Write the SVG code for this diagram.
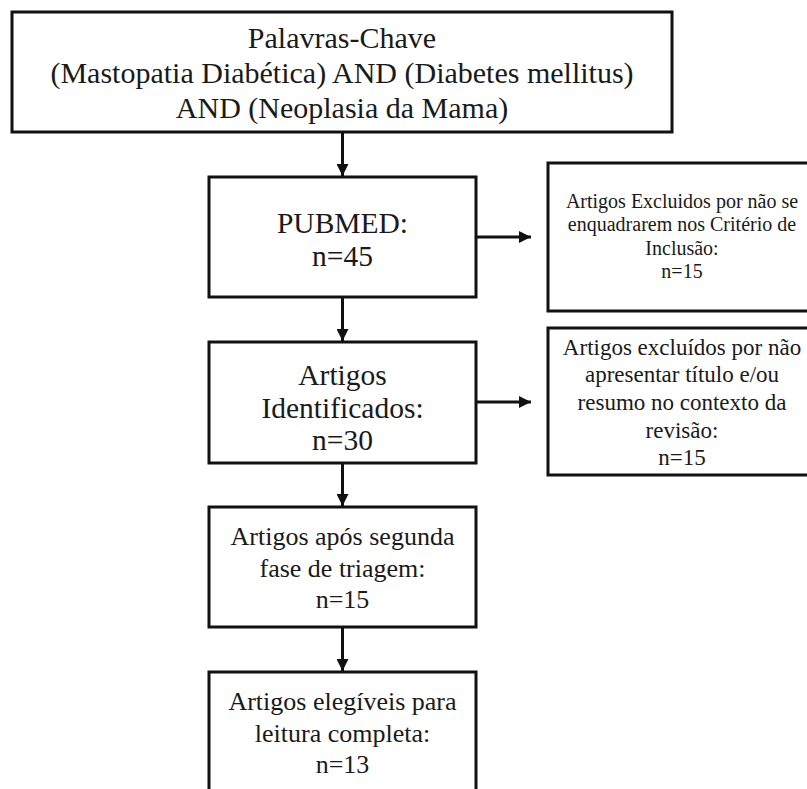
<svg xmlns="http://www.w3.org/2000/svg" width="807" height="789" viewBox="0 0 807 789">
<style>
.box{fill:#fff;stroke:#111;stroke-width:3}
.t{font-family:"Liberation Serif","Times New Roman",serif;fill:#1a1a1a;text-anchor:middle}
.c{stroke:#111;stroke-width:3;fill:none}
</style>
<defs>
<marker id="ah" markerUnits="userSpaceOnUse" markerWidth="12" markerHeight="12" refX="12" refY="6" orient="auto">
<path d="M0,0 L12,6 L0,12 z" fill="#111"/>
</marker>
</defs>
<rect width="807" height="789" fill="#fff"/>
<g id="connectors">
<line class="c" x1="342.5" y1="133" x2="342.5" y2="176" marker-end="url(#ah)"/>
<line class="c" x1="342.5" y1="298" x2="342.5" y2="341" marker-end="url(#ah)"/>
<line class="c" x1="342.5" y1="464" x2="342.5" y2="506" marker-end="url(#ah)"/>
<line class="c" x1="342.5" y1="628" x2="342.5" y2="671" marker-end="url(#ah)"/>
<line class="c" x1="477" y1="237" x2="531" y2="237" marker-end="url(#ah)"/>
<line class="c" x1="477" y1="402" x2="531" y2="402" marker-end="url(#ah)"/>
</g>
<g id="n-palavras">
<rect class="box" x="12" y="12" width="660" height="120"/>
<text class="t" font-size="30" x="342" y="48">Palavras-Chave</text>
<text class="t" font-size="30" x="342" y="83">(Mastopatia Diabética) AND (Diabetes mellitus)</text>
<text class="t" font-size="30" x="342" y="118">AND (Neoplasia da Mama)</text>
</g>
<g id="n-pubmed">
<rect class="box" x="209" y="177" width="267" height="120"/>
<text class="t" font-size="29.5" x="342.5" y="233">PUBMED:</text>
<text class="t" font-size="29.5" x="342.5" y="266">n=45</text>
</g>
<g id="n-excl1">
<rect class="box" x="548" y="163" width="268" height="148"/>
<text class="t" font-size="20" x="682" y="208">Artigos Excluidos por não se</text>
<text class="t" font-size="20" x="682" y="231">enquadrarem nos Critério de</text>
<text class="t" font-size="20" x="682" y="255">Inclusão:</text>
<text class="t" font-size="20" x="682" y="278">n=15</text>
</g>
<g id="n-identificados">
<rect class="box" x="209" y="342" width="267" height="121"/>
<text class="t" font-size="29.5" x="342.5" y="385">Artigos</text>
<text class="t" font-size="29.5" x="342.5" y="418">Identificados:</text>
<text class="t" font-size="29.5" x="342.5" y="450">n=30</text>
</g>
<g id="n-excl2">
<rect class="box" x="548" y="328" width="268" height="147"/>
<text class="t" font-size="23" x="682" y="355">Artigos excluídos por não</text>
<text class="t" font-size="23" x="682" y="382">apresentar título e/ou</text>
<text class="t" font-size="23" x="682" y="410">resumo no contexto da</text>
<text class="t" font-size="23" x="682" y="438">revisão:</text>
<text class="t" font-size="23" x="682" y="465">n=15</text>
</g>
<g id="n-triagem">
<rect class="box" x="209" y="507" width="267" height="120"/>
<text class="t" font-size="26" x="342.5" y="545">Artigos após segunda</text>
<text class="t" font-size="26" x="342.5" y="577">fase de triagem:</text>
<text class="t" font-size="26" x="342.5" y="608">n=15</text>
</g>
<g id="n-elegiveis">
<rect class="box" x="209" y="672" width="267" height="130"/>
<text class="t" font-size="26" x="342.5" y="710">Artigos elegíveis para</text>
<text class="t" font-size="26" x="342.5" y="742">leitura completa:</text>
<text class="t" font-size="26" x="342.5" y="773">n=13</text>
</g>
</svg>
